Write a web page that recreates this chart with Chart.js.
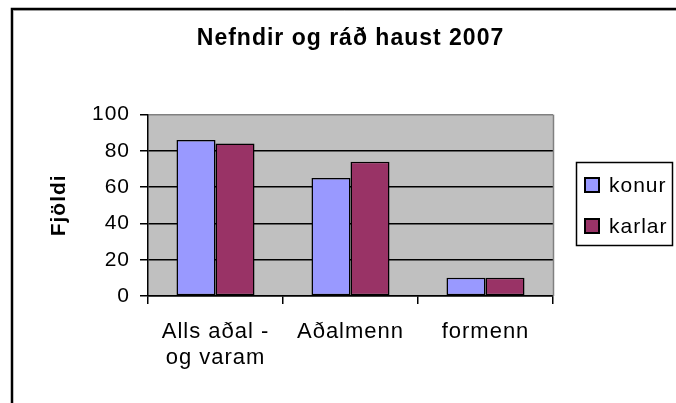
<!DOCTYPE html>
<html>
<head>
<meta charset="utf-8">
<script src="https://cdn.jsdelivr.net/npm/chart.js@4.4.0/dist/chart.umd.min.js"></script>
<style>
  html, body { margin: 0; padding: 0; background: #fff; }
  #wrap { width: 676px; height: 403px; }
</style>
</head>
<body>
<div id="wrap"><canvas id="myChart"></canvas></div>
<script>
const categories = [["Alls aðal -", "og varam"], "Aðalmenn", "formenn"];
const konur = [86, 65, 10];
const karlar = [84, 74, 10];
const yTicks = [0, 20, 40, 60, 80, 100];

const FONT = "'Liberation Sans', Arial, sans-serif";

// widen text a bit, the original Excel picture is stretched sideways
function spacing(chart) {
  chart.ctx.letterSpacing = "1px";
}

// outer frame + grey plot background
const frame = {
  id: "frame",
  beforeUpdate: spacing,
  beforeDraw(chart) {
    spacing(chart);
    const { ctx, chartArea: a } = chart;
    ctx.save();
    ctx.strokeStyle = "#000";
    ctx.lineWidth = 2.5;
    ctx.beginPath();
    ctx.moveTo(12, 403);
    ctx.lineTo(12, 9);
    ctx.lineTo(676, 9);
    ctx.stroke();
    ctx.strokeStyle = "#999";
    ctx.lineWidth = 1;
    ctx.beginPath();
    ctx.moveTo(13, 10.5);
    ctx.lineTo(676, 10.5);
    ctx.stroke();
    ctx.fillStyle = "#c0c0c0";
    ctx.fillRect(a.left, a.top, a.right - a.left, a.bottom - a.top);
    ctx.restore();
  },
  beforeDatasetsDraw(chart) {
    const { ctx, chartArea: a } = chart;
    ctx.save();
    ctx.strokeStyle = "#808080";
    ctx.lineWidth = 1.5;
    ctx.beginPath();
    ctx.moveTo(Math.round(a.right) + 0.5, a.top);
    ctx.lineTo(Math.round(a.right) + 0.5, a.bottom);
    ctx.stroke();
    ctx.restore();
  },
};

// legend drawn in a box at the right, like Excel
const legendBox = {
  id: "legendBox",
  afterDraw(chart) {
    const ctx = chart.ctx;
    ctx.save();
    ctx.strokeStyle = "#000";
    ctx.lineWidth = 1.5;
    ctx.strokeRect(576.5, 162.5, 96, 83);
    chart.data.datasets.forEach((ds, i) => {
      const y = 178 + i * 41;
      ctx.fillStyle = ds.backgroundColor;
      ctx.fillRect(585, y, 14, 14);
      ctx.strokeStyle = "#000";
      ctx.lineWidth = 2;
      ctx.strokeRect(585, y, 14, 14);
      ctx.fillStyle = "#000";
      ctx.font = "21px " + FONT;
      ctx.textAlign = "left";
      ctx.textBaseline = "middle";
      ctx.fillText(ds.label, 609, y + 8);
    });
    ctx.restore();
  },
};

const ctx = document.getElementById("myChart").getContext("2d");

const data = {
  labels: categories,
  datasets: [
    {
      label: "konur",
      data: konur,
      backgroundColor: "#9999ff",
      borderColor: "#000",
      borderWidth: 1.5,
      borderSkipped: false,
    },
    {
      label: "karlar",
      data: karlar,
      backgroundColor: "#993366",
      borderColor: "#000",
      borderWidth: 1.5,
      borderSkipped: false,
    },
  ],
};

const config = {
  type: "bar",
  data: data,
  options: {
    responsive: true,
    maintainAspectRatio: false,
    animation: false,
    categoryPercentage: 0.578,
    barPercentage: 1,
    layout: {
      padding: { left: 0, right: 123, top: 0, bottom: 0 },
    },
    plugins: {
      legend: { display: false },
      tooltip: { enabled: false },
      title: {
        display: true,
        fullSize: false,
        text: "Nefndir og ráð haust 2007",
        color: "#000",
        font: { family: FONT, size: 23, weight: "bold", lineHeight: 1.2 },
        padding: { top: 25, bottom: 62 },
      },
    },
    scales: {
      x: {
        afterFit: (scale) => {
          scale.height = 107;
        },
        grid: {
          display: true,
          offset: true,
          drawOnChartArea: false,
          drawTicks: true,
          tickLength: 8,
          lineWidth: 1.5,
          color: "#000",
        },
        border: { display: true, color: "#000", width: 1.5 },
        ticks: {
          color: "#000",
          autoSkip: false,
          maxRotation: 0,
          padding: 15,
          font: { family: FONT, size: 22, lineHeight: 1.17 },
        },
      },
      y: {
        min: 0,
        max: 100,
        afterFit: (scale) => {
          scale.width = 148;
        },
        afterBuildTicks: (scale) => {
          scale.ticks = yTicks.map((v) => ({ value: v }));
        },
        grid: {
          color: (c) => (c.tick && c.tick.value === 100 ? "#808080" : "#000"),
          tickColor: "#000",
          tickLength: 8,
          lineWidth: 1.5,
        },
        border: { display: true, color: "#000", width: 1.5 },
        ticks: {
          color: "#000",
          padding: 10,
          font: { family: FONT, size: 21 },
        },
        title: {
          display: true,
          text: "Fjöldi",
          color: "#000",
          font: { family: FONT, size: 21, weight: "bold", lineHeight: 1.2 },
          padding: { top: 47, bottom: 0 },
        },
      },
    },
  },
  plugins: [frame, legendBox],
};

const myChart = new Chart(ctx, config);
</script>
</body>
</html>
